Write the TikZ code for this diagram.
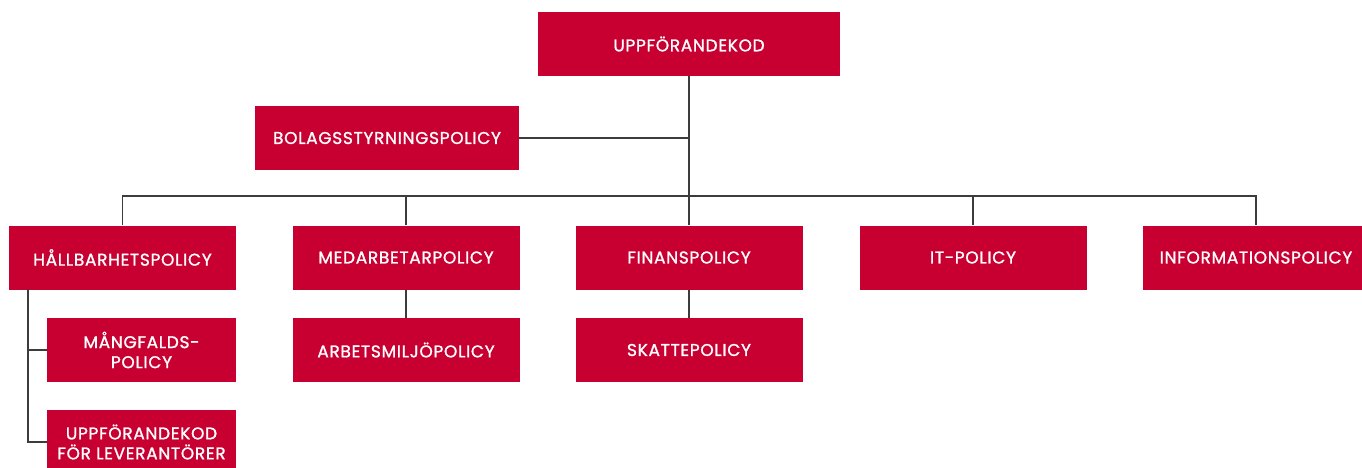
\documentclass[tikz,border=0pt]{standalone}
\usepackage{fontspec}
\setmainfont{Poppins}
\newfontfamily\boxfont{Poppins}[FakeBold=1.2,LetterSpace=4]
\definecolor{policyred}{RGB}{200,0,50}
\definecolor{linegray}{RGB}{60,60,60}
\begin{document}
\begin{tikzpicture}[x=1pt,y=-1pt,
		box/.style={fill=policyred,text=white,minimum width=227pt,minimum height=64pt,inner sep=0pt,align=center,font=\boxfont\fontsize{17}{20}\selectfont},
		conn/.style={draw=linegray,line width=1.4pt}]
		\useasboundingbox (0,0) rectangle (1362,468);
		\begin{scope}
		\clip (0,0) rectangle (1362,468);
		\node[box,minimum width=302pt] (cod) at (689,44) {UPPFÖRANDEKOD};
		\node[box,minimum width=264pt] (bolag) at (387,138) {BOLAGSSTYRNINGSPOLICY};
		\node[box] (hall) at (122.5,257.5) {HÅLLBARHETSPOLICY};
		\node[box] (med) at (406,257.5) {MEDARBETARPOLICY};
		\node[box] (fin) at (689,257.5) {FINANSPOLICY};
		\node[box] (it) at (973,257.5) {IT-POLICY};
		\node[box] (info) at (1256,257.5) {INFORMATIONSPOLICY};
		\node[box,minimum width=189pt] (mang) at (141.5,350) {MÅNGFALDS-\\POLICY};
		\node[box] (arb) at (406,350) {ARBETSMILJÖPOLICY};
		\node[box] (skatt) at (689,350) {SKATTEPOLICY};
		\node[box,minimum width=189pt] (lev) at (141.5,442) {UPPFÖRANDEKOD\\FÖR LEVERANTÖRER};
		\end{scope}
		\coordinate (bus) at (689,196);
		\coordinate (hl) at (28,289);
		\draw[conn] (cod.south) -- (fin.north);
		\draw[conn] (bolag.east) -- (bolag.east -| cod.south);
		\draw[conn] (hall.north) |- (bus) -| (info.north);
		\draw[conn] (med.north) -- (med.north |- bus);
		\draw[conn] (it.north) -- (it.north |- bus);
		\draw[conn] (med.south) -- (arb.north);
		\draw[conn] (fin.south) -- (skatt.north);
		\draw[conn] (hl) |- (lev.west);
		\draw[conn] (mang.west) -- (mang.west -| hl);
		
		\end{tikzpicture}
\end{document}
